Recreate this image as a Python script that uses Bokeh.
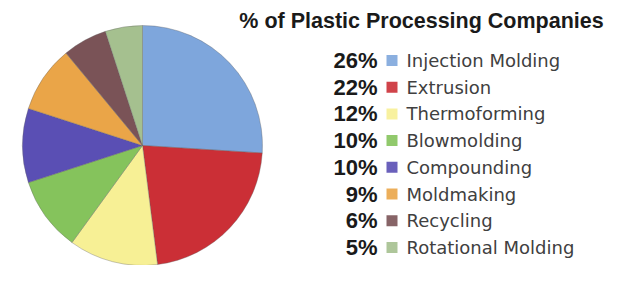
import numpy as np
from bokeh.plotting import figure
from bokeh.models import Range1d, ColumnDataSource
from bokeh.core.properties import value
from bokeh.embed import file_html
from bokeh.resources import INLINE

title_text = "% of Plastic Processing Companies"
categories = ["Injection Molding", "Extrusion", "Thermoforming", "Blowmolding",
              "Compounding", "Moldmaking", "Recycling", "Rotational Molding"]
percents = [26, 22, 12, 10, 10, 9, 6, 5]
colors = ["#7ea6dc", "#cb2f36", "#f7f095", "#85c35c",
          "#5a4fb4", "#eaa548", "#7a5357", "#a5c08f"]

W, H = 606, 265
p = figure(width=W, height=H, output_backend="svg", toolbar_location=None,
           x_range=Range1d(0, W), y_range=Range1d(0, H),
           min_border=0, outline_line_color=None)
p.axis.visible = False
p.grid.visible = False
p.background_fill_color = "white"
p.border_fill_color = "white"

def Y(img_y):
    return H - img_y

# pie
frac = np.array(percents, dtype=float) / sum(percents)
cum = np.concatenate([[0], np.cumsum(frac)])
start = np.pi / 2 - cum[:-1] * 2 * np.pi
end = np.pi / 2 - cum[1:] * 2 * np.pi
cx, cy, r = 142, Y(145), 120
src = ColumnDataSource(dict(start=start, end=end, color=colors))
p.wedge(x=cx, y=cy, radius=r, start_angle="start", end_angle="end",
        direction="clock", fill_color="color", line_color="#666666",
        line_width=0.6, line_alpha=0.6, source=src)

# title
p.text(x=[421], y=[Y(20)], text=[title_text], text_font=value("Liberation Sans"),
       text_font_style="bold", text_font_size="21.5px", text_align="center",
       text_baseline="middle", text_color="#1a1a1a")

# legend rows
row0, step = 60, 26.7
ys = [Y(row0 + i * step) for i in range(len(categories))]
pct_labels = [f"{v}%" for v in percents]
p.text(x=[377] * len(ys), y=ys, text=pct_labels, text_font=value("Liberation Sans"),
       text_font_style="bold", text_font_size="22px", text_align="right",
       text_baseline="middle", text_color="#1a1a1a")
p.rect(x=[391.5] * len(ys), y=ys, width=11, height=11, fill_color=colors,
       line_color=None, fill_alpha=0.9)
p.text(x=[406] * len(ys), y=ys, text=categories, text_font=value("DejaVu Sans"),
       text_font_size="18px", text_align="left", text_baseline="middle",
       text_color="#404040")

open("out.html", "w").write(file_html(p, INLINE))
